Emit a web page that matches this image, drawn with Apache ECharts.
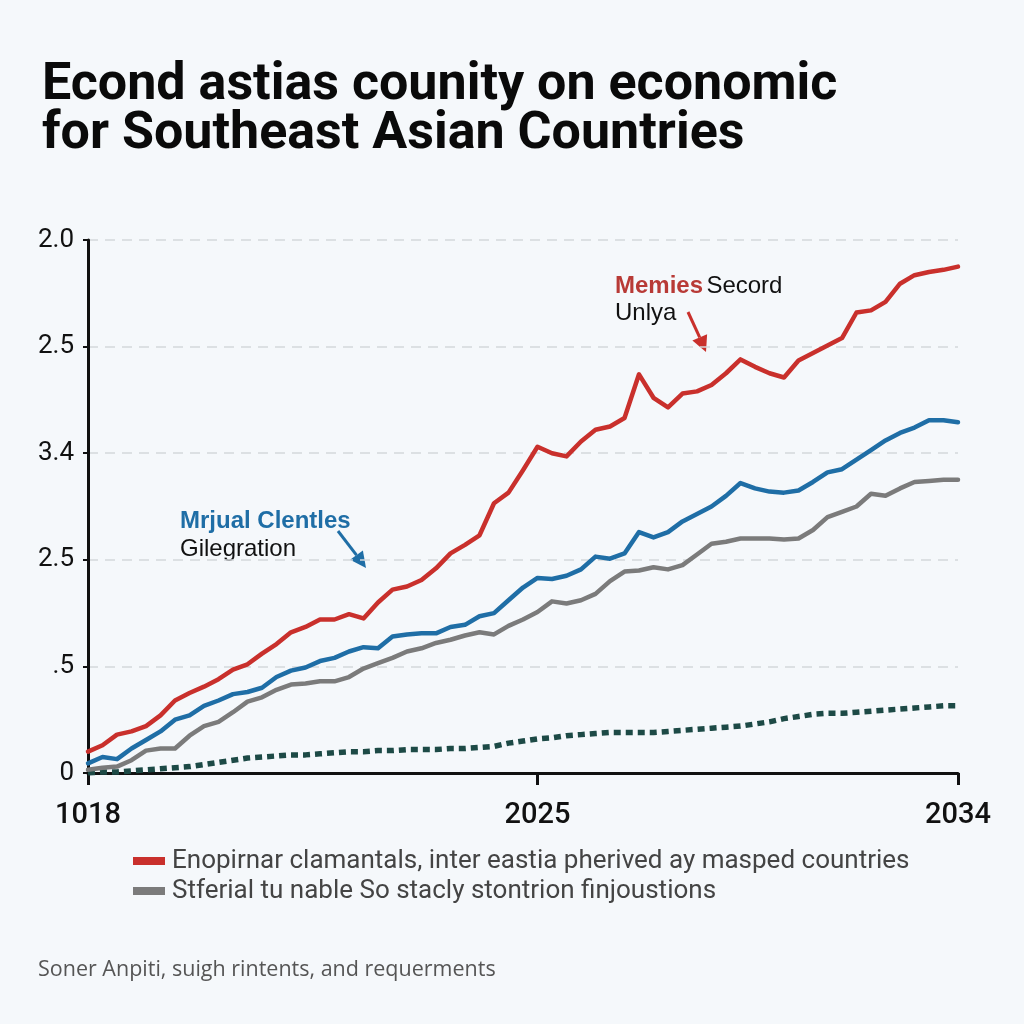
<!DOCTYPE html>
<html>
<head>
<meta charset="utf-8">
<script src="https://cdn.jsdelivr.net/npm/echarts@6/dist/echarts.min.js"></script>
<style>
  html, body { margin: 0; padding: 0; background: #f5f8fb; }
  #chart { width: 1024px; height: 1024px; }
</style>
</head>
<body>
<div id="chart"></div>
<script>
// ---- data ----
const titleLines = ['Econd astias counity on economic', 'for Southeast Asian Countries'];
const xTickIndex = [0, 31, 60];
const xTickLabels = ['1018', '2025', '2034'];
const yTickLabels = ['0', '.5', '2.5', '3.4', '2.5', '2.0'];
const seriesNames = [
  'Enopirnar clamantals, inter eastia pherived ay masped countries',
  'Stferial tu nable So stacly stontrion finjoustions',
  'Mrjual Clentles',
  'Baseline'
];
const redValues = [0.20,0.26,0.36,0.39,0.44,0.54,0.68,0.75,0.81,0.88,0.97,1.02,1.12,1.21,1.32,1.37,1.44,1.44,1.49,1.45,
  1.60,1.72,1.75,1.81,1.92,2.06,2.14,2.23,2.53,2.63,2.84,3.06,3.00,2.97,3.11,3.22,3.25,3.33,3.74,3.52,
  3.43,3.56,3.58,3.64,3.75,3.88,3.81,3.75,3.71,3.87,3.94,4.01,4.08,4.32,4.34,4.42,4.59,4.67,4.70,4.72,4.75];
const blueValues = [0.09,0.15,0.13,0.23,0.31,0.39,0.50,0.54,0.63,0.68,0.74,0.76,0.80,0.90,0.96,0.99,1.05,1.08,1.14,1.18,
  1.17,1.28,1.30,1.31,1.31,1.37,1.39,1.47,1.50,1.62,1.74,1.83,1.82,1.85,1.91,2.03,2.01,2.06,2.26,2.21,
  2.26,2.36,2.43,2.50,2.60,2.72,2.67,2.64,2.63,2.65,2.73,2.82,2.85,2.94,3.03,3.12,3.19,3.24,3.31,3.31,3.29];
const grayValues = [0.03,0.05,0.06,0.12,0.21,0.23,0.23,0.35,0.44,0.48,0.57,0.67,0.71,0.78,0.83,0.84,0.86,0.86,0.90,0.98,
  1.03,1.08,1.14,1.17,1.22,1.25,1.29,1.32,1.30,1.38,1.44,1.51,1.61,1.59,1.62,1.68,1.80,1.89,1.90,1.93,
  1.91,1.95,2.05,2.15,2.17,2.20,2.20,2.20,2.19,2.20,2.28,2.40,2.45,2.50,2.62,2.60,2.67,2.73,2.74,2.75,2.75];
const greenValues = [0.00,0.01,0.01,0.02,0.03,0.04,0.05,0.06,0.08,0.10,0.12,0.14,0.15,0.16,0.17,0.17,0.18,0.19,0.20,0.20,
  0.21,0.21,0.22,0.22,0.22,0.23,0.23,0.24,0.25,0.28,0.30,0.32,0.33,0.35,0.36,0.37,0.38,0.38,0.38,0.38,
  0.39,0.40,0.41,0.42,0.43,0.44,0.46,0.48,0.51,0.53,0.55,0.56,0.56,0.57,0.58,0.59,0.60,0.61,0.62,0.63,0.63];
const categories = redValues.map((_, i) => String(i));

const RED = '#c9302c', BLUE = '#1f6ea6', GRAY = '#7b7b7b', GREEN = '#1d4a46';
const FONT = 'Roboto, "Liberation Sans", sans-serif';
const AFONT = '"Liberation Sans", Arial, sans-serif';

const chart = echarts.init(document.getElementById('chart'), null, { renderer: 'canvas' });

function lineSeries(name, data, color, extra) {
  return Object.assign({
    name, type: 'line', data, symbol: 'none', smooth: false,
    lineStyle: { color, width: 4.5, join: 'round', cap: 'round' },
    itemStyle: { color }, z: 3
  }, extra || {});
}

const option = {
  animation: false,
  backgroundColor: '#f5f8fb',
  textStyle: { fontFamily: FONT },
  title: {
    text: titleLines.join('\n'),
    left: 37, top: 56,
    textStyle: { fontFamily: FONT, fontSize: 52, fontWeight: 'bold', color: '#0a0a0a', lineHeight: 49 }
  },
  grid: { left: 88, right: 66, top: 240, bottom: 251, containLabel: false },
  xAxis: {
    type: 'category', data: categories, boundaryGap: false,
    axisLine: { lineStyle: { color: '#111', width: 3 } },
    axisTick: { show: true, length: 12, lineStyle: { color: '#111', width: 3 },
      interval: (i) => xTickIndex.includes(i) },
    axisLabel: { interval: (i) => xTickIndex.includes(i), margin: 28,
      formatter: (v, i) => xTickLabels[xTickIndex.indexOf(i)] || '',
      fontFamily: FONT, fontSize: 29, fontWeight: 500, color: '#111' },
    splitLine: { show: false }
  },
  yAxis: {
    type: 'value', min: 0, max: 5, interval: 1,
    axisLine: { show: true, lineStyle: { color: '#111', width: 3 } },
    axisTick: { show: true, length: 5, lineStyle: { color: '#111', width: 2 } },
    axisLabel: { margin: 14, formatter: (v) => yTickLabels[Math.round(v)],
      fontFamily: FONT, fontSize: 26, color: '#111' },
    splitLine: { show: true, lineStyle: { color: '#d3d7dc', width: 1.5, type: [10, 7] } }
  },
  legend: {
    orient: 'vertical', left: 128, top: 843,
    data: [seriesNames[0], seriesNames[1]],
    icon: 'rect', itemWidth: 32, itemHeight: 8, itemGap: 4,
    textStyle: { fontFamily: FONT, fontSize: 26, color: '#444', padding: [0, 0, 0, 2] }
  },
  graphic: [
    { type: 'text', left: 38, top: 959,
      style: { text: 'Soner Anpiti, suigh rintents, and requerments', font: '21.5px "Open Sans", ' + FONT, fill: '#555' } },
    { type: 'text', x: 180, y: 507,
      style: { text: '{b|Mrjual Clentles}\n{n|Gilegration}',
        rich: { b: { font: 'bold 24px ' + AFONT, fill: BLUE, lineHeight: 28 },
                n: { font: '24px ' + AFONT, fill: '#111', lineHeight: 28 } } } },
    { type: 'line', shape: { x1: 338, y1: 531, x2: 356.5, y2: 555.1 }, style: { stroke: BLUE, lineWidth: 3 } },
    { type: 'polygon', shape: { points: [[366, 568], [350.1, 559.8], [362.9, 550.4]] }, style: { fill: BLUE } },
    { type: 'text', x: 615, y: 273,
      style: { text: '{r|Memies} {n|Secord}\n{n|Unlya}',
        rich: { r: { font: 'bold 24px ' + AFONT, fill: '#b83a36', lineHeight: 27 },
                n: { font: '24px ' + AFONT, fill: '#111', lineHeight: 27 } } } },
    { type: 'line', shape: { x1: 688, y1: 312, x2: 699.7, y2: 337.3 }, style: { stroke: RED, lineWidth: 3 } },
    { type: 'polygon', shape: { points: [[706, 352], [692.4, 340.5], [707.1, 334.2]] }, style: { fill: RED } }
  ],
  series: [
    lineSeries(seriesNames[3], greenValues, GREEN, {
      lineStyle: { color: GREEN, width: 5.5, type: [7, 5], cap: 'butt' }, z: 2 }),
    lineSeries(seriesNames[1], grayValues, GRAY),
    lineSeries(seriesNames[2], blueValues, BLUE),
    lineSeries(seriesNames[0], redValues, RED)
  ]
};
chart.setOption(option);
</script>
</body>
</html>
